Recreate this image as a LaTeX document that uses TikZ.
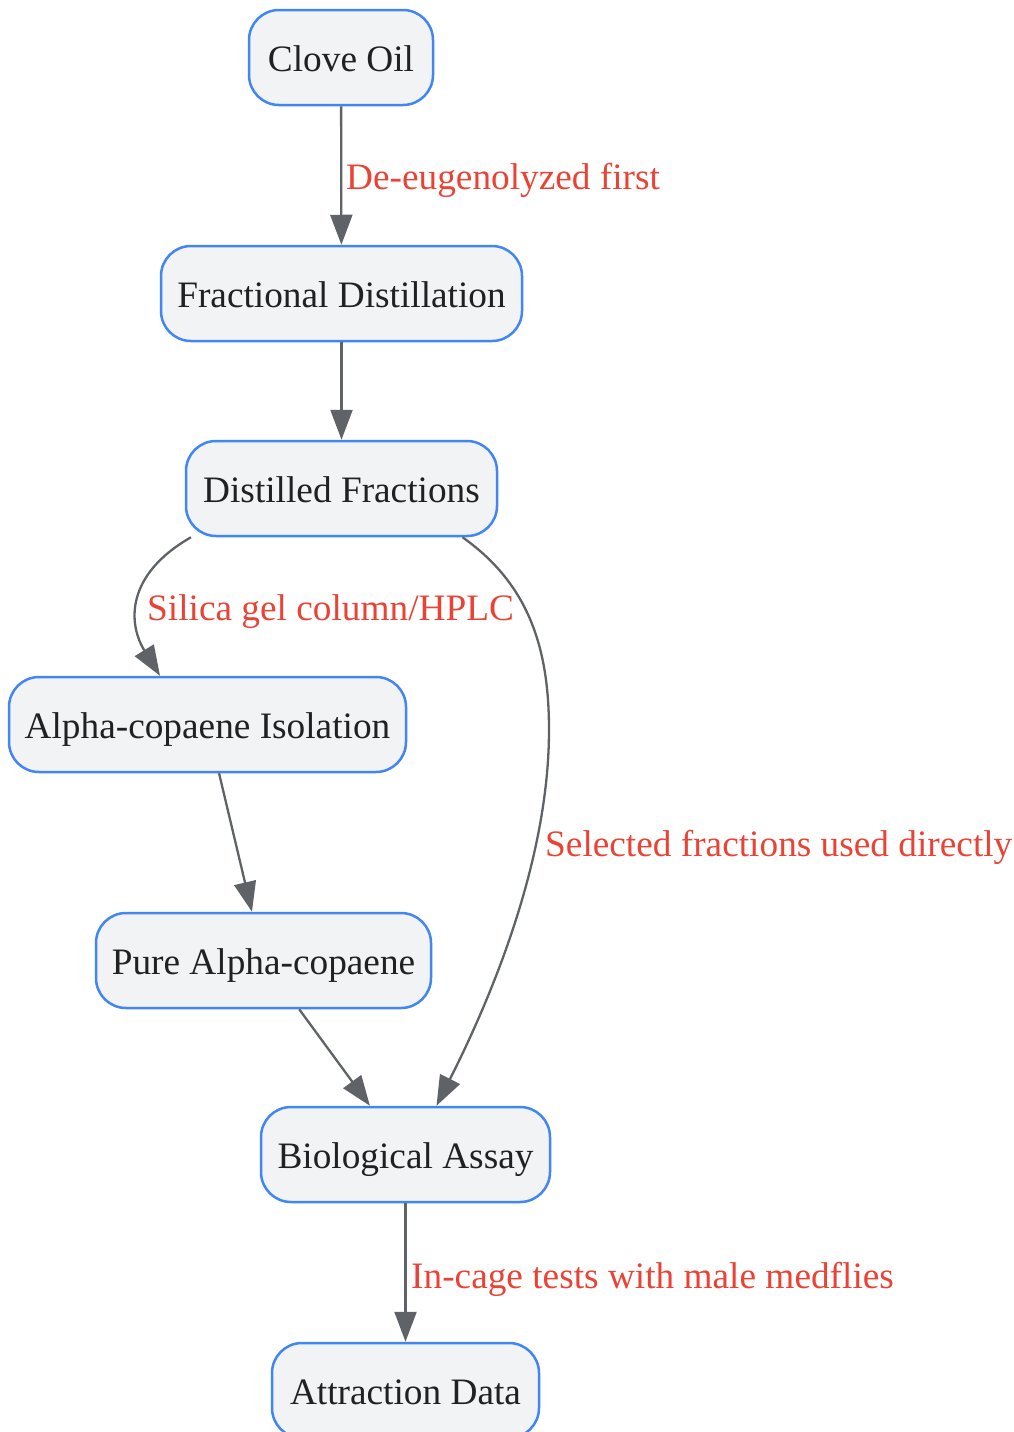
\documentclass[tikz,border=0pt]{standalone}
\usepackage{fontspec}
\setmainfont{Liberation Serif}
\usetikzlibrary{arrows.meta}
\definecolor{nodefill}{HTML}{F1F3F5}
\definecolor{nodeline}{HTML}{4285F4}
\definecolor{edgecol}{HTML}{5F6368}
\definecolor{labelcol}{HTML}{EA4335}
\definecolor{textcol}{HTML}{202124}
\tikzset{
  box/.style={draw=nodeline, fill=nodefill, line width=2.5pt, rounded corners=30pt,
    minimum height=95pt, inner xsep=2pt, inner ysep=0pt, text=textcol,
    font=\fontsize{37.3}{40}\selectfont, text height=27pt, text depth=0pt},
  edge/.style={draw=edgecol, line width=2.3pt, -{Triangle[length=30pt,width=22pt]}},
  elabel/.style={text=labelcol, font=\fontsize{37.3}{40}\selectfont, inner sep=0pt, anchor=base west}
}
\begin{document}
\begin{tikzpicture}[x=1pt,y=-1pt]
\useasboundingbox (0,0) rectangle (1013,1432);
\node[box, minimum width=184pt] (clove) at (341,57.5) {Clove Oil};
\node[box, minimum width=361pt] (frac) at (341.5,293.5) {Fractional Distillation};
\node[box, minimum width=311pt] (dist) at (341.5,488.5) {Distilled Fractions};
\node[box, minimum width=397pt] (alpha) at (207.5,724.5) {Alpha-copaene Isolation};
\node[box, minimum width=335pt] (pure) at (263.5,960.5) {Pure Alpha-copaene};
\node[box, minimum width=289pt] (bio) at (405.5,1154.5) {Biological Assay};
\node[box, minimum width=267pt] (attr) at (405.5,1390.5) {Attraction Data};

\draw[edge] (clove) -- (frac);
\draw[edge] (frac) -- (dist);
\draw[edge] ([xshift=-150.5pt]dist.south) .. controls (125,575) and (128,624) .. ([xshift=-47.5pt]alpha.north);
\coordinate (mid) at (549,730);
\draw[edge] ([xshift=121pt]dist.south) .. controls (530,585) and (549,650) .. (mid)
  .. controls (549,850) and (500,980) .. ([xshift=31pt]bio.north);
\draw[edge] (alpha) -- (pure);
\draw[edge] (pure) -- (bio);
\draw[edge] (bio) -- (attr);

\node[elabel] (l1) at (346,189) {De-eugenolyzed first};
\node[elabel] (l2) at (147,620) {Silica gel column/HPLC};
\node[elabel] (l3) at (545,856) {Selected fractions used directly};
\node[elabel] (l4) at (411,1288) {In-cage tests with male medflies};
\end{tikzpicture}
\end{document}
